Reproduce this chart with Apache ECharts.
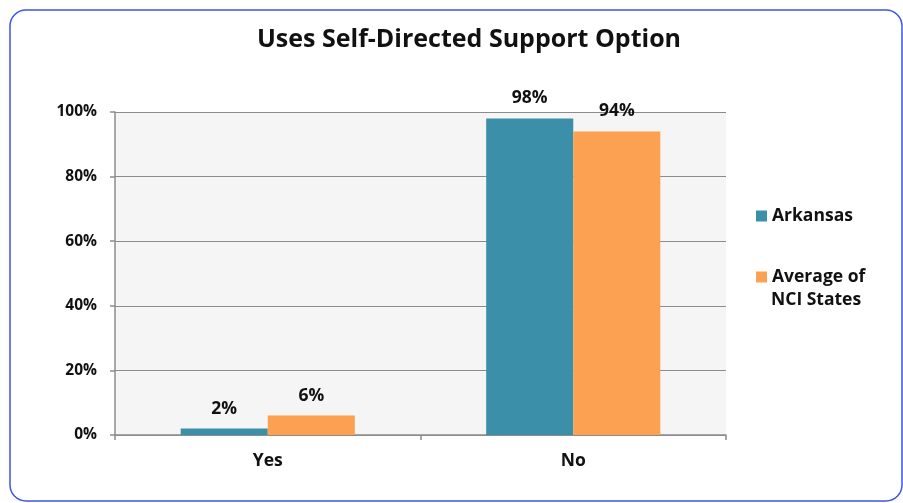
<!DOCTYPE html>
<html>
<head>
<meta charset="utf-8">
<script src="https://cdn.jsdelivr.net/npm/echarts@6/dist/echarts.min.js"></script>
<style>html,body{margin:0;padding:0;background:#fff;}#c{width:903px;height:503px;}</style>
</head>
<body>
<div id="c"></div>
<script>
var categories = ['Yes', 'No'];
var arkansas = [2, 98];
var nciAverage = [6, 94];
var yTicks = [0, 20, 40, 60, 80, 100];
var seriesNames = ['Arkansas', 'Average of NCI States'];

var chart = echarts.init(document.getElementById('c'));
var font = '"Open Sans", "DejaVu Sans", sans-serif';
var legendFont = {fontFamily: font, fontWeight: 'bold', fontSize: 17.5, color: '#111'};
chart.setOption({
  animation: false,
  backgroundColor: '#fff',
  title: {
    text: 'Uses Self-Directed Support Option',
    left: 464, top: 22, textAlign: 'center',
    textStyle: {fontFamily: font, fontWeight: 'bold', fontSize: 25, color: '#111'}
  },
  graphic: [{
    type: 'rect', silent: true,
    shape: {x: 10, y: 10, width: 892, height: 491, r: 16},
    style: {fill: 'none', stroke: '#3a55e6', lineWidth: 1.5}
  }, {
    type: 'text', silent: true, left: 771, top: 291,
    style: {text: 'NCI States', font: 'bold 17.5px "Open Sans", "DejaVu Sans", sans-serif', fill: '#111'}
  }],
  legend: {
    orient: 'vertical', left: 751, top: 202, itemGap: 43,
    itemWidth: 11, itemHeight: 11, icon: 'rect',
    textStyle: legendFont,
    formatter: function (n) { return n === 'Average of NCI States' ? 'Average of' : n; },
    data: seriesNames
  },
  grid: {left: 115, right: 177, top: 112, bottom: 68, show: true, backgroundColor: '#f5f5f5', borderWidth: 0},
  xAxis: {
    type: 'category', data: categories,
    axisLine: {lineStyle: {color: '#8c8c8c', width: 1.5}},
    axisTick: {show: true, length: 5, lineStyle: {color: '#8c8c8c', width: 1.5}},
    axisLabel: {fontFamily: font, fontWeight: 'bold', fontSize: 17.5, color: '#111', margin: 17}
  },
  yAxis: {
    type: 'value', min: 0, max: 100, interval: 20,
    axisLine: {show: true, lineStyle: {color: '#8c8c8c', width: 1.5}},
    axisTick: {show: true, length: 5, lineStyle: {color: '#8c8c8c', width: 1.5}},
    splitLine: {lineStyle: {color: '#8c8c8c', width: 1.2}},
    axisLabel: {fontFamily: font, fontWeight: 'bold', fontSize: 15.5, color: '#111', margin: 18,
      formatter: function (v) { return yTicks.indexOf(v) >= 0 ? v + '%' : ''; }}
  },
  series: [{
    name: seriesNames[0], type: 'bar', data: arkansas, barWidth: '28.5%', barGap: '0%',
    itemStyle: {color: '#3b8fa8'},
    label: {show: true, position: 'top', distance: 11, formatter: '{c}%',
      fontFamily: font, fontWeight: 'bold', fontSize: 17.5, color: '#111'}
  }, {
    name: seriesNames[1], type: 'bar', data: nciAverage, barWidth: '28.5%',
    itemStyle: {color: '#fca052'},
    label: {show: true, position: 'top', distance: 11, formatter: '{c}%',
      fontFamily: font, fontWeight: 'bold', fontSize: 17.5, color: '#111'}
  }]
});
</script>
</body>
</html>
